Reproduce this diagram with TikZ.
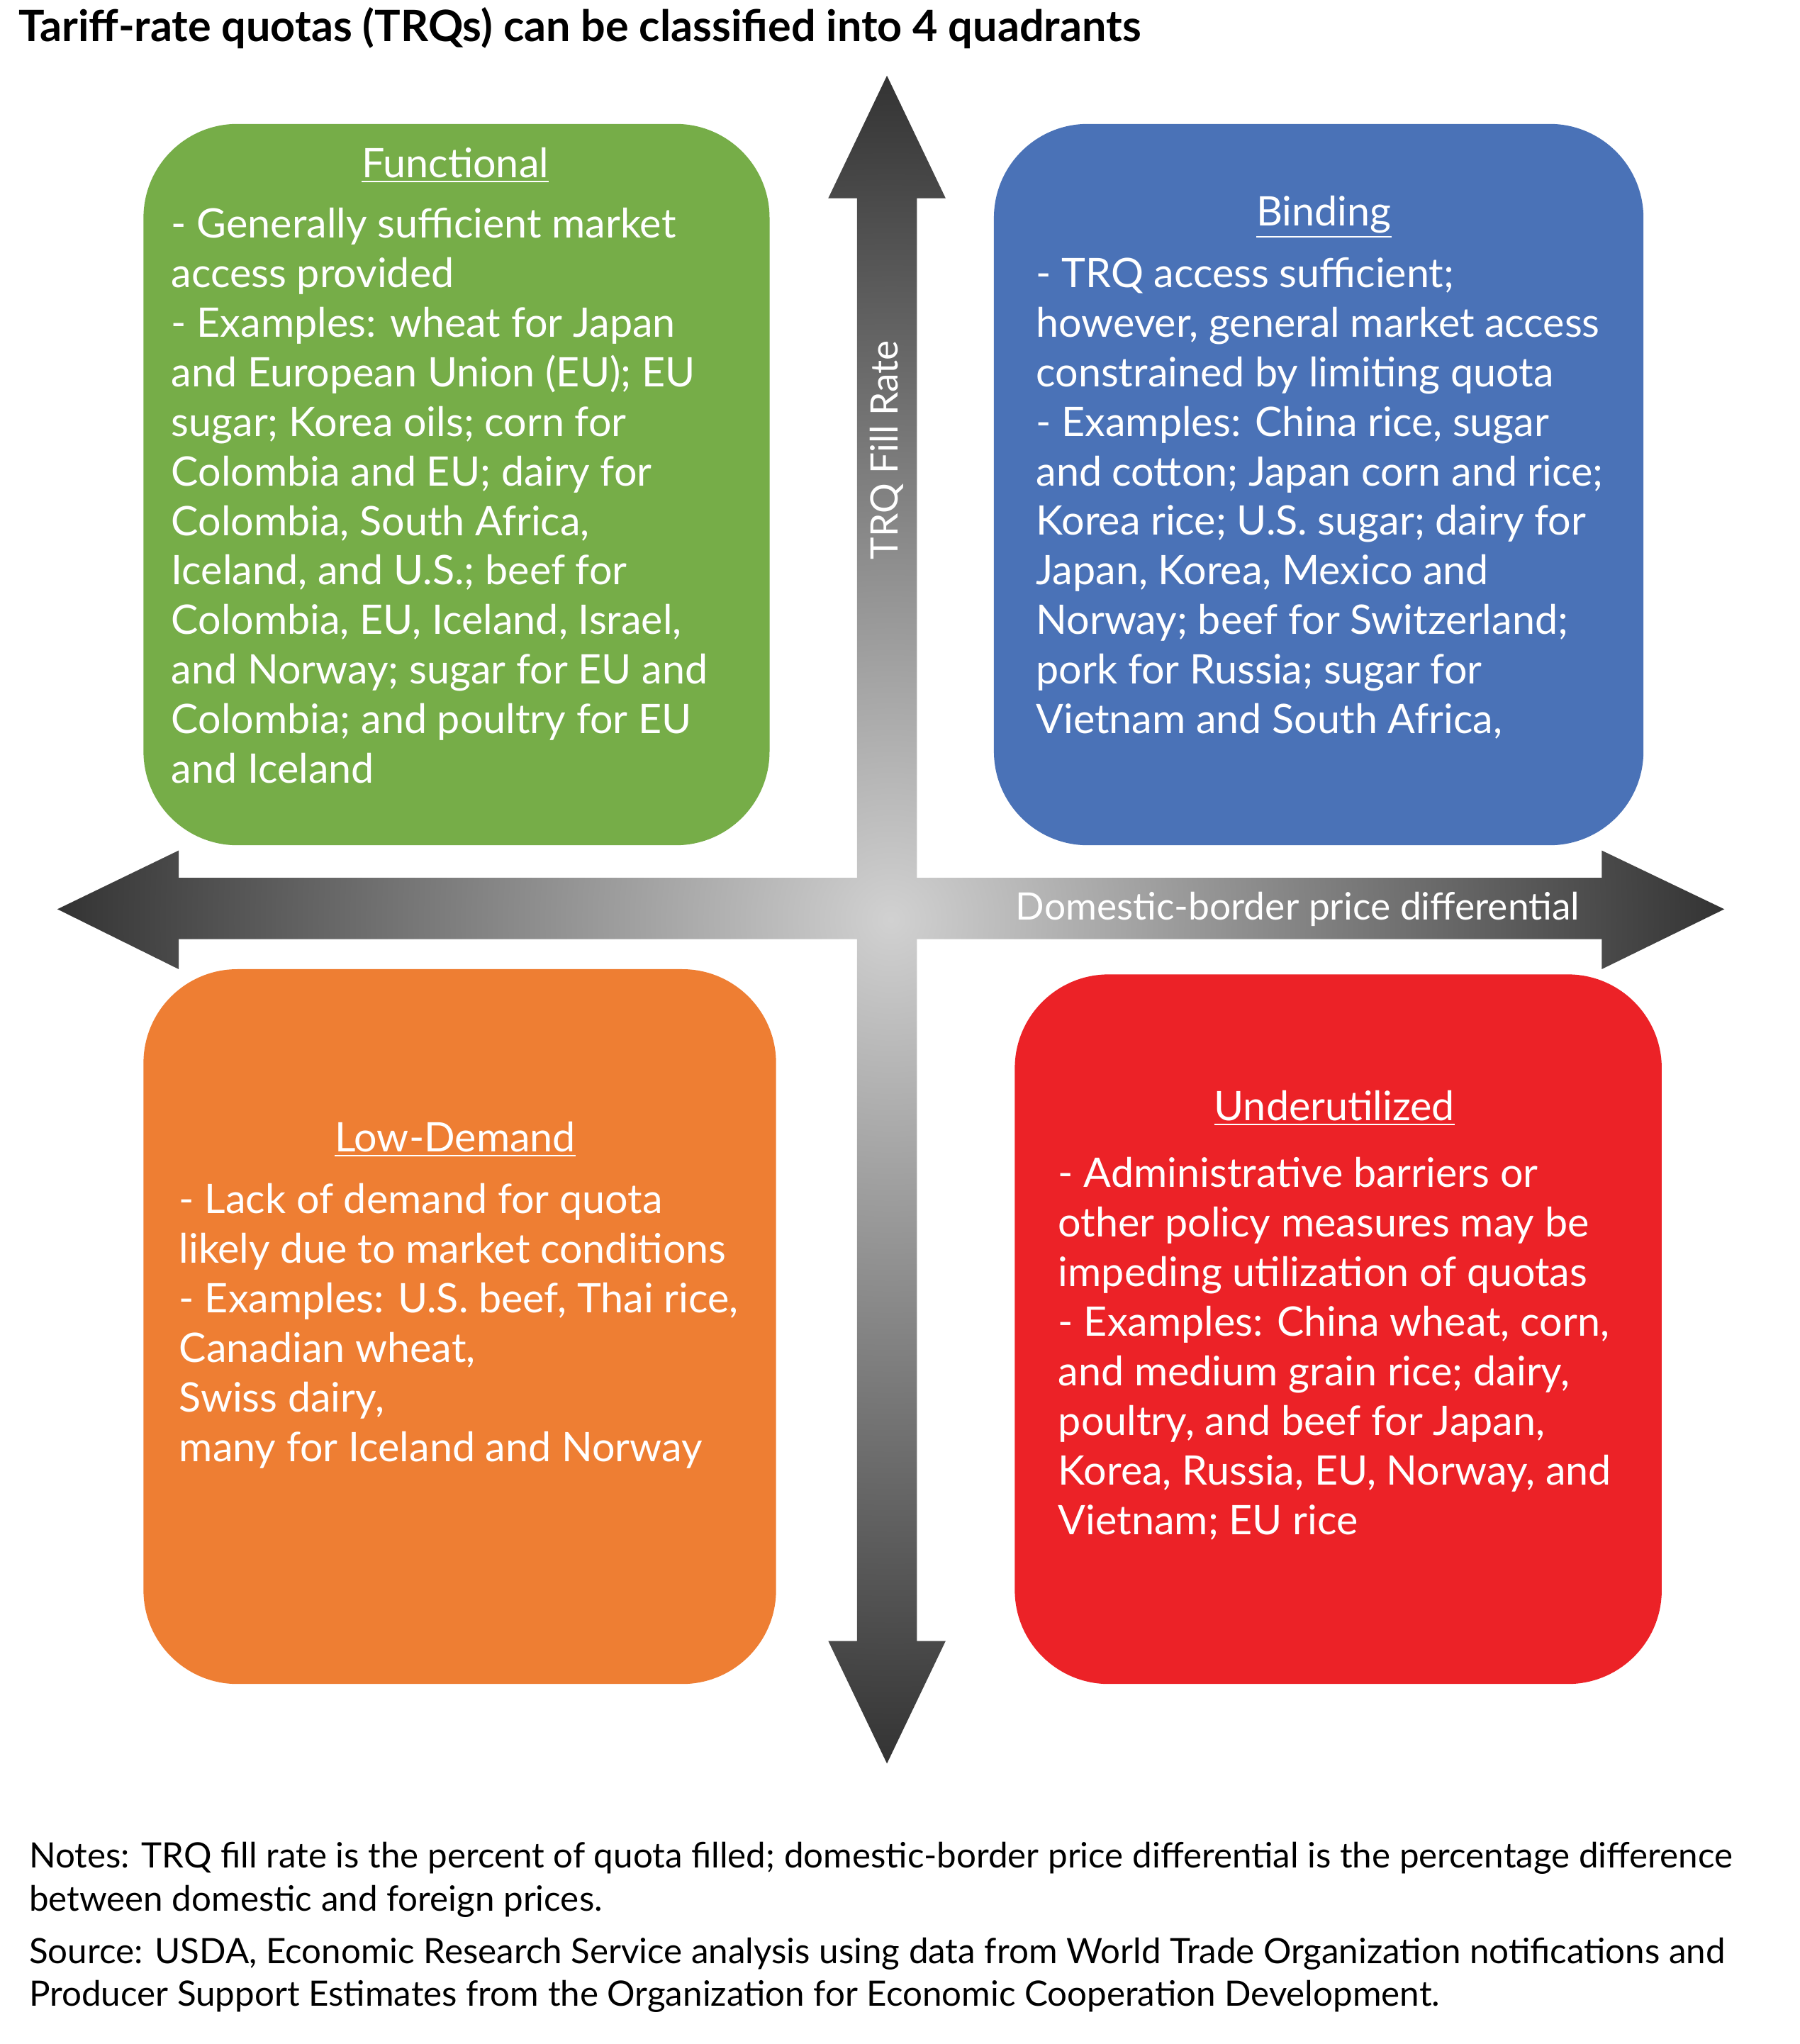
\documentclass[tikz,border=0pt]{standalone}
\usepackage{fontspec}
\setmainfont{Lato}
\definecolor{cgreen}{HTML}{76AD48}
\definecolor{cblue}{HTML}{4A72B7}
\definecolor{corange}{HTML}{EE7E33}
\definecolor{cred}{HTML}{EC2227}
\begin{document}
\begin{tikzpicture}[x=0.5pt,y=-0.5pt,
  box/.style={rounded corners=36pt},
  body/.style={anchor=north west,align=left,inner sep=0,font=\fontsize{15.6}{19}\selectfont,text=white},
  ttl/.style={anchor=base,inner sep=0,font=\fontsize{15.6}{19}\selectfont,text=white},
  note/.style={anchor=north west,align=left,inner sep=0,font=\fontsize{13.4}{16.5}\selectfont}]
\useasboundingbox (0,0) rectangle (1380,1567);
\fill[white] (0,0) rectangle (1380,1567);
\node[anchor=base west,inner sep=0,font=\bfseries\fontsize{16.6}{19}\selectfont] (title) at (14,32) {Tariff-rate quotas (TRQs) can be classified into 4 quadrants};
\fill[box,cgreen] (110,95) rectangle (590,648);
\fill[box,cblue] (762,95) rectangle (1260,648);
\fill[box,corange] (110,743) rectangle (595,1291);
\fill[box,cred] (778,747) rectangle (1274,1291);
\shade[inner color=black!18,outer color=black!80]
 (657,152) -- (635,152) -- (680,58) -- (725,152) -- (703,152) -- (703,673) -- (1228,673) -- (1228,652) -- (1322,697) -- (1228,743) -- (1228,720) -- (703,720)
 -- (703,1258) -- (725,1258) -- (680,1352) -- (635,1258) -- (657,1258) -- (657,720) -- (137,720) -- (137,743) -- (44,697) -- (137,652) -- (137,673) -- (657,673) -- cycle;
\node[rotate=90,text=white,font=\fontsize{14.5}{16}\selectfont] (ylab) at (680,345) {TRQ Fill Rate};
\node[text=white,font=\fontsize{14.5}{16}\selectfont] (xlab) at (995,697) {Domestic-border price differential};
\node[ttl] (t1) at (349,136) {\underline{Functional}};
\node[body] (b1) at (131,159) {- Generally sufficient market\\access provided\\- Examples: wheat for Japan\\and European Union (EU); EU\\sugar; Korea oils; corn for\\Colombia and EU; dairy for\\Colombia, South Africa,\\Iceland, and U.S.; beef for\\Colombia, EU, Iceland, Israel,\\and Norway; sugar for EU and\\Colombia; and poultry for EU\\and Iceland};
\node[ttl] (t2) at (1015,173) {\underline{Binding}};
\node[body] (b2) at (794,197) {- TRQ access sufficient;\\however, general market access\\constrained by limiting quota\\- Examples: China rice, sugar\\and cotton; Japan corn and rice;\\Korea rice; U.S. sugar; dairy for\\Japan, Korea, Mexico and\\Norway; beef for Switzerland;\\pork for Russia; sugar for\\Vietnam and South Africa,};
\node[ttl] (t3) at (349,883) {\underline{Low-Demand}};
\node[body] (b3) at (137,907) {- Lack of demand for quota\\likely due to market conditions\\- Examples: U.S. beef, Thai rice,\\Canadian wheat,\\Swiss dairy,\\many for Iceland and Norway};
\node[ttl] (t4) at (1023,859) {\underline{Underutilized}};
\node[body] (b4) at (811,887) {- Administrative barriers or\\other policy measures may be\\impeding utilization of quotas\\- Examples: China wheat, corn,\\and medium grain rice; dairy,\\poultry, and beef for Japan,\\Korea, Russia, EU, Norway, and\\Vietnam; EU rice};
\node[note] (n1) at (22,1412) {Notes: TRQ fill rate is the percent of quota filled; domestic-border price differential is the percentage difference\\between domestic and foreign prices.};
\node[note] (n2) at (22,1485) {Source: USDA, Economic Research Service analysis using data from World Trade Organization notifications and\\Producer Support Estimates from the Organization for Economic Cooperation Development.};
\end{tikzpicture}
\end{document}
